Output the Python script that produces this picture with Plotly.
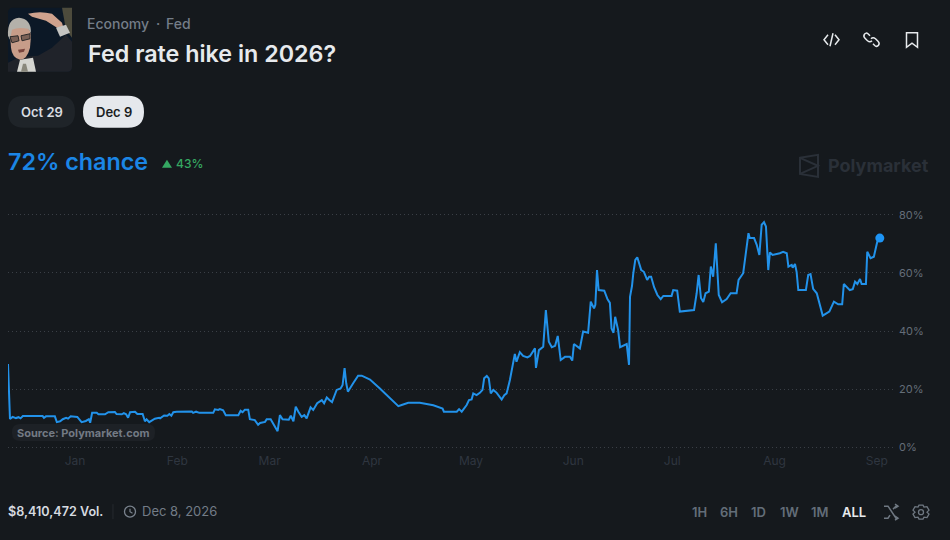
import re
import pandas as pd
import plotly.graph_objects as go

# ---- data: days since 1 Jan 2026, and percent chance ----
day_offsets = [
 -20.3,-19.8,-19.7,-18.9,-17.9,-17.1,-16.5,-15.8,-9.8,-9.4,-8.8,-6.1,-5.5,-4.5,-3.7,-2.7,-2.1,-1.3,0.7,2.0,
 3.3,4.2,4.6,5.2,6.6,7.1,9.1,10.1,12.1,12.6,14.2,14.8,15.5,16.1,16.7,18.2,18.9,20.5,21.2,21.7,
 22.5,24.2,25.5,25.8,27.0,28.0,28.6,29.2,29.8,30.8,35.4,35.8,36.7,37.7,41.9,42.4,43.4,43.9,44.9,45.7,
 49.5,50.2,50.8,51.5,52.5,53.0,54.5,55.5,56.1,57.6,58.1,59.3,60.3,61.4,62.1,62.9,64.8,65.4,66.2,66.9,
 67.7,68.7,69.5,70.2,71.4,72.2,73.4,74.2,74.8,75.5,76.3,77.1,77.9,79.3,80.5,81.1,81.7,82.2,82.7,84.3,
 85.8,86.9,89.4,92.4,95.5,98.0,99.0,101.0,104.5,108.6,111.4,111.8,115.7,116.4,117.2,118.7,119.4,120.2,120.7,121.7,
 122.7,123.5,124.0,124.8,125.4,126.0,126.8,127.8,129.3,130.1,130.8,131.8,133.3,133.8,134.8,135.8,137.1,137.9,139.4,139.7,
 140.6,141.9,142.7,143.6,144.5,145.5,146.3,147.2,148.5,150.0,150.7,151.2,153.0,154.0,155.5,156.3,157.3,157.7,158.2,158.7,
 160.4,161.4,162.1,162.6,163.2,163.7,164.6,165.2,167.2,167.9,168.2,168.8,169.2,169.8,170.4,171.0,171.6,172.4,173.4,174.0,
 174.6,175.5,176.5,177.5,178.3,180.8,181.3,182.5,183.3,187.6,188.4,189.0,189.7,190.4,191.1,192.1,192.7,193.4,194.2,195.1,
 196.1,197.5,198.7,200.5,201.1,202.5,203.3,204.1,204.5,205.8,206.6,207.4,208.1,208.8,209.4,210.1,210.6,211.4,213.6,214.6,
 215.7,216.2,217.2,217.5,218.2,218.7,219.2,221.5,222.2,222.9,223.7,224.8,226.6,227.8,228.6,230.0,231.3,232.5,233.0,234.8,
 235.7,236.4,237.1,237.9,238.4,239.7,240.1,241.1,242.1,243.1,243.9]
chance = [
 28.6,10.0,9.7,10.4,10.0,10.3,9.9,10.7,10.7,10.1,10.6,10.6,8.6,8.9,9.6,10.1,9.8,10.6,10.4,8.6,
 9.0,9.6,8.4,11.8,11.8,11.3,11.3,12.0,12.1,11.4,11.3,11.7,11.3,10.1,12.0,12.2,11.4,11.4,8.9,9.6,
 8.6,9.8,10.1,9.9,10.9,10.8,11.4,10.8,12.0,12.2,12.3,11.8,12.2,11.8,11.8,13.0,12.8,13.1,12.7,11.0,
 11.0,12.5,12.0,12.9,12.9,9.6,9.3,7.7,8.3,8.7,9.6,9.6,7.6,5.5,11.0,9.6,9.4,10.8,8.9,13.9,
 12.2,10.4,11.0,9.9,13.7,12.8,15.1,15.6,16.2,15.1,17.1,16.2,15.5,19.7,20.2,21.4,27.2,22.0,19.1,22.0,
 24.6,24.6,23.3,20.2,16.8,14.1,14.5,15.3,15.3,14.4,13.3,12.2,12.2,13.1,12.2,14.5,16.2,16.4,18.5,17.9,
 18.7,19.7,23.7,24.5,23.7,18.5,19.7,18.7,16.4,17.9,18.5,23.1,32.1,29.4,32.7,31.4,30.9,31.4,34.0,27.3,
 33.4,34.6,47.2,36.3,34.4,34.9,38.3,30.0,31.1,31.1,29.8,35.5,34.0,39.8,39.4,50.1,47.8,49.0,61.0,54.1,
 53.9,50.9,49.7,40.9,39.4,44.9,40.3,34.4,35.5,28.3,51.8,55.5,59.9,64.5,65.4,63.4,61.0,60.4,57.6,58.7,
 58.7,55.1,52.4,51.0,52.1,52.1,54.1,53.9,46.7,47.2,53.0,59.3,51.4,50.0,53.0,53.6,62.2,58.7,70.2,52.4,
 49.9,51.0,53.0,53.0,57.6,59.9,66.2,73.7,72.0,72.0,69.7,66.2,76.6,77.5,76.0,61.0,67.1,66.2,66.8,67.3,
 66.8,62.2,62.8,61.8,63.1,60.3,54.1,54.1,59.3,59.6,54.5,53.0,45.3,46.1,46.7,50.1,49.2,49.2,56.2,54.1,
 54.4,57.0,56.2,57.9,56.2,56.2,67.3,65.1,65.6,70.6,72.0]
month_starts = ["2026-01-01","2026-02-01","2026-03-01","2026-04-01","2026-05-01",
                "2026-06-01","2026-07-01","2026-08-01","2026-09-01"]
month_labels = ["Jan","Feb","Mar","Apr","May","Jun","Jul","Aug","Sep"]
y_ticks = [0, 20, 40, 60, 80]
range_buttons = ["1H","6H","1D","1W","1M","ALL"]
date_buttons = ["Oct 29","Dec 9"]
change_points = 43
volume = 8410472

dates = pd.Timestamp("2026-01-01") + pd.to_timedelta(day_offsets, unit="D")

# ---- layout helpers: pixel -> paper ----
W, H = 950, 540
L, R, T, B = 8, 893, 212.1, 449.9
def px(x): return (x - L) / (R - L)
def py(y): return (B - y) / (B - T)
def P(s):
    out, isx = [], True
    for t in re.findall(r"[A-Za-z]|-?\d+\.?\d*", s):
        if t.isalpha():
            out.append(t); isx = True
        else:
            v = float(t)
            out.append(f"{px(v):.5f}" if isx else f"{py(v):.5f}")
            isx = not isx
    return " ".join(out)
shapes, notes = [], []
def path(s, fill=None, line=None, w=1.5, layer="above"):
    shapes.append(dict(type="path", xref="paper", yref="paper", path=P(s), layer=layer,
                       fillcolor=fill or "rgba(0,0,0,0)",
                       line=dict(color=line or "rgba(0,0,0,0)", width=w if line else 0)))
def rrect(x0, y0, x1, y1, r, fill, layer="above"):
    path(f"M {x0+r} {y0} L {x1-r} {y0} Q {x1} {y0} {x1} {y0+r} L {x1} {y1-r} Q {x1} {y1} {x1-r} {y1} "
         f"L {x0+r} {y1} Q {x0} {y1} {x0} {y1-r} L {x0} {y0+r} Q {x0} {y0} {x0+r} {y0} Z", fill=fill, layer=layer)
def ell(x0, y0, x1, y1, fill=None, line=None, w=1.5):
    shapes.append(dict(type="circle", xref="paper", yref="paper", x0=px(x0), x1=px(x1), y0=py(y0), y1=py(y1),
                       fillcolor=fill or "rgba(0,0,0,0)", layer="above",
                       line=dict(color=line or "rgba(0,0,0,0)", width=w if line else 0)))
def text(x, y, s, size, color, weight=400, anchor="left"):
    notes.append(dict(xref="paper", yref="paper", x=px(x - (1 if anchor == "left" else 0)), y=py(y), text=s,
                      showarrow=False, xanchor=anchor, yanchor="middle", borderpad=0,
                      font=dict(family="Inter", size=size, color=color, weight=weight)))

BG = "#15191d"
LINE = "#2292ea"
BLUE = "#1b86e6"

# thumbnail (drawn approximation of the photo)
rrect(8, 8, 72, 72, 5, "#0c1826")
path("M 62 8 L 72 8 L 72 38 L 66 30 Z", fill="#4d4b3c")
path("M 8 72 L 8 63 L 20 57 L 38 56 L 52 48 L 66 35 L 72 42 L 72 67 Q 72 72 67 72 Z", fill="#20232a")
path("M 17 72 L 20 60 L 33 58 L 36 72 Z", fill="#d5d5d0")
path("M 21 72 L 23 64 L 26 64 L 28 72 Z", fill="#8a887c")
path("M 10 34 Q 10 24 20 24 Q 30 25 31 36 L 30 48 Q 27 60 20 60 Q 12 58 11 48 Z", fill="#c79d89")
path("M 8 36 Q 7 19 19 18 Q 31 19 31 33 L 28 29 Q 18 27 12 30 L 10 40 Z", fill="#b4b1aa")
path("M 10 37 L 18 36 L 19 41 L 12 43 Z", fill="rgba(30,25,25,0.45)", line="#2c2a2a", w=1)
path("M 21 36 L 30 34 L 30 39 L 22 41 Z", fill="rgba(30,25,25,0.45)", line="#2c2a2a", w=1)
path("M 18 50 L 25 49 L 24 52 L 19 53 Z", fill="#7a453d")
path("M 28 14 Q 40 11 52 14 L 62 23 L 64 30 L 57 28 L 46 21 L 32 17 Z", fill="#cfa28d")
path("M 56 28 L 66 25 L 70 33 L 60 37 Z", fill="#c4c4c1")

text(87, 24, "Economy", 14, "#747d88", 500)
text(156, 24, "·", 14, "#747d88", 500)
text(166, 24, "Fed", 14, "#747d88", 500)
text(88, 54, "Fed rate hike in 2026?", 23.3, "#e7eaed", 600)

# top right icons
c = "#e7eaed"
path("M 828 35 L 824 40 L 828 45", line=c)
path("M 835 35 L 839 40 L 835 45", line=c)
path("M 833 33.5 L 830 46.5", line=c)
path("M 870 36 L 868 34 Q 866 32.5 864.5 34.5 Q 863 36.5 865 38.5 L 867.5 41 Q 870 43 872 41", line=c)
path("M 873 44 L 875 46 Q 877 47.5 878.5 45.5 Q 880 43.5 878 41.500 L 875.5 39 Q 873 37 871 39", line=c)
path("M 906.500 33 L 917.500 33 L 917.500 47.500 L 912 43.500 L 906.500 47.500 Z", line=c)

# date pills
pill_boxes = [(8, 75, "#1f2429", "#d9dde1"), (83, 144, "#e5e8ec", "#1a1d21")]
for lab, (x0, x1, f, tc) in zip(date_buttons, pill_boxes):
    rrect(x0, 96, x1, 128, 16, f)
    text((x0 + x1) / 2, 112, lab, 13, tc, 600, "center")

# headline
text(8, 161.5, f"{chance[-1]:.0f}% chance", 23.3, BLUE, 600)
path("M 162 168 L 167 160 L 172 168 Z", fill="#35a862")
text(176, 164, f"{change_points}%", 12, "#35a862", 500)

# watermark
wm = "#2a3038"
path("M 800 158 L 818 155 L 818 177 L 800 174 Z", line=wm, w=2)
path("M 800 158 L 818 166 L 800 174", line=wm, w=2)
text(828, 165.5, "Polymarket", 18, wm, 700)

# source badge
rrect(12, 424, 155, 441, 8, "#1d2126", layer="below")
text(17, 432.500, "Source: Polymarket.com", 11, "#737a84", 700)

# footer
text(8, 511, f"${volume:,} Vol.", 12.6, "#d7dbe0", 600)
path("M 113 504 L 113 519", line="#262a2f", w=1)
ell(124.500, 506, 135.500, 517, line="#7a838e", w=1.3)
path("M 130 508.500 L 130 511.500 L 132.500 513", line="#7a838e", w=1.2)
text(142, 511, "Dec 8, 2026", 13, "#737c87", 400)
for lab, x in zip(range_buttons, [699, 729, 758, 789, 820, 854]):
    text(x, 512, lab, 13, "#e7eaed" if lab == "ALL" else "#636d78", 600, "center")
g = "#6f7882"
path("M 884 506 L 888 506 L 896 518 L 898 518", line=g)
path("M 884 518 L 888 518 L 890 515", line=g)
path("M 893 509 L 896 506 L 898 506", line=g)
path("M 895 504 L 898 506 L 895 508", line=g)
path("M 895 516 L 898 518 L 895 520", line=g)
path("M 919 505 L 923 505 L 924 507 L 927 506.500 L 929 510 L 927 512 L 929 514 L 927 517.500 L 924 517 "
     "L 923 519 L 919 519 L 918 517 L 915 517.500 L 913 514 L 915 512 L 913 510 L 915 506.500 L 918 507 Z", line=g, w=1.3)
ell(918.500, 509.500, 923.500, 514.500, line=g, w=1.3)

fig = go.Figure()
fig.add_trace(go.Scatter(x=dates, y=chance, mode="lines", line=dict(color=LINE, width=2),
                         hoverinfo="skip", showlegend=False))
fig.add_trace(go.Scatter(x=[dates[-1]], y=[chance[-1]], mode="markers", cliponaxis=False,
                         marker=dict(color="#1d94f5", size=9), hoverinfo="skip", showlegend=False))
fig.update_layout(
    width=W, height=H, margin=dict(l=L, r=W - R, t=T, b=H - B, pad=0),
    paper_bgcolor=BG, plot_bgcolor=BG, shapes=shapes, annotations=notes,
    font=dict(family="Inter"),
    xaxis=dict(type="date", range=[pd.Timestamp("2026-01-01") + pd.Timedelta(days=-20.3),
                                   pd.Timestamp("2026-01-01") + pd.Timedelta(days=247.9)],
               tickvals=month_starts, ticktext=month_labels, showgrid=False, zeroline=False,
               showline=False, ticks="", ticklabelstandoff=2,
               tickfont=dict(size=12, color="#2f3640", family="Inter")),
    yaxis=dict(range=[-1, 81], side="right", tickvals=y_ticks, ticktext=[f"{v}%" for v in y_ticks],
               showgrid=True, gridcolor="#3a3f46", griddash="1px 3px", gridwidth=1, zeroline=False,
               showline=False, ticks="", ticklabelstandoff=5,
               tickfont=dict(size=11, color="#646d78", family="Inter")),
)
fig.write_html("out.html", config={"displayModeBar": False},
               post_script="document.body.style.margin='0';document.body.style.background='#15191d';")
